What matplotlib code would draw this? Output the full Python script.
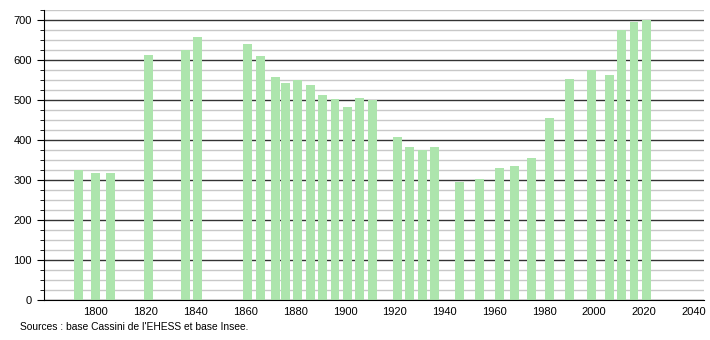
import numpy as np
import matplotlib.pyplot as plt
from matplotlib.ticker import MultipleLocator

plt.rcParams['font.family'] = ['Liberation Sans', 'DejaVu Sans']

# census years and population
years = [1793, 1800, 1806, 1821, 1836, 1841, 1861, 1866, 1872, 1876, 1881, 1886,
         1891, 1896, 1901, 1906, 1911, 1921, 1926, 1931, 1936, 1946, 1954, 1962,
         1968, 1975, 1982, 1990, 1999, 2006, 2011, 2016, 2021]
population = [325, 318, 318, 613, 624, 658, 641, 611, 558, 543, 550, 538,
              513, 503, 483, 506, 500, 408, 383, 374, 383, 296, 302, 331,
              336, 356, 456, 553, 574, 563, 675, 695, 700]
xticks = list(range(1800, 2041, 20))

fig = plt.figure(figsize=(7.1, 3.4), dpi=100)
ax = fig.add_axes([43.5 / 710, 40 / 340, 660.5 / 710, 290 / 340])

ax.set_axisbelow(True)
ax.yaxis.set_major_locator(MultipleLocator(100))
ax.yaxis.set_minor_locator(MultipleLocator(25))
ax.grid(which='minor', axis='y', color='#c8c8c8', linewidth=1)
ax.grid(which='major', axis='y', color='#333333', linewidth=1)

ax.bar(years, population, width=3.6, color='#ade5ad')

ax.set_xlim(1779.0, 2044.1)
ax.set_ylim(0, 725)
ax.set_xticks(xticks)
ax.tick_params(axis='x', length=0, labelsize=8, pad=5)
ax.tick_params(axis='y', which='major', length=5, labelsize=8)
ax.tick_params(axis='y', which='minor', length=3)

for s in ['top', 'right']:
    ax.spines[s].set_visible(False)
ax.spines['left'].set_color('black')
ax.spines['bottom'].set_color('black')

fig.text(20 / 710, 1 - 327 / 340, "Sources : base Cassini de l'EHESS et base Insee.",
         fontsize=7.4, va='center')

fig.savefig('out.png', dpi=100)
